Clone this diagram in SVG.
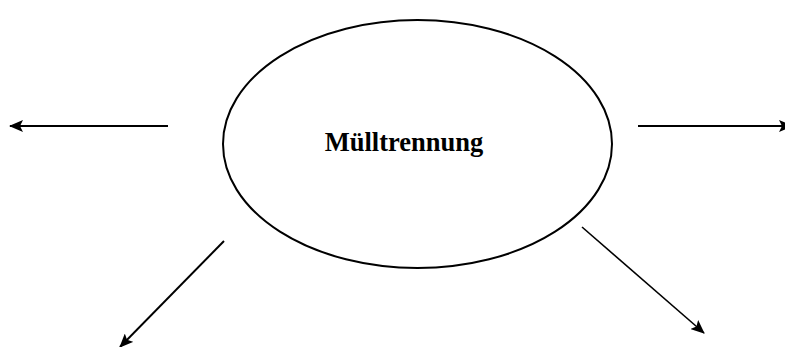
<svg xmlns="http://www.w3.org/2000/svg" width="785" height="347" viewBox="0 0 785 347">
<defs>
<marker id="ah" markerUnits="userSpaceOnUse" markerWidth="14" markerHeight="12" refX="13" refY="6" orient="auto">
<path d="M0,0 L14,6 L0,12 L3,6 Z" fill="#000"/>
</marker>
<style>
.c{stroke:#000;fill:none;marker-end:url(#ah)}
.t{font-family:"Liberation Serif",serif;font-weight:bold;font-size:26.5px;fill:#000}
</style>
</defs>
<rect width="785" height="347" fill="#fff"/>
<g id="node-muelltrennung">
<ellipse cx="417.5" cy="144" rx="194.5" ry="124" fill="none" stroke="#000" stroke-width="2"/>
<text class="t" x="404" y="151" text-anchor="middle">Mülltrennung</text>
</g>
<g id="connectors">
<line class="c" x1="168" y1="126" x2="10" y2="126" stroke-width="2.2"/>
<line class="c" x1="638" y1="126" x2="792" y2="126" stroke-width="2.2"/>
<line class="c" x1="224" y1="241" x2="120" y2="347" stroke-width="2"/>
<line class="c" x1="582" y1="227" x2="704" y2="333" stroke-width="1.6"/>
</g>
</svg>
